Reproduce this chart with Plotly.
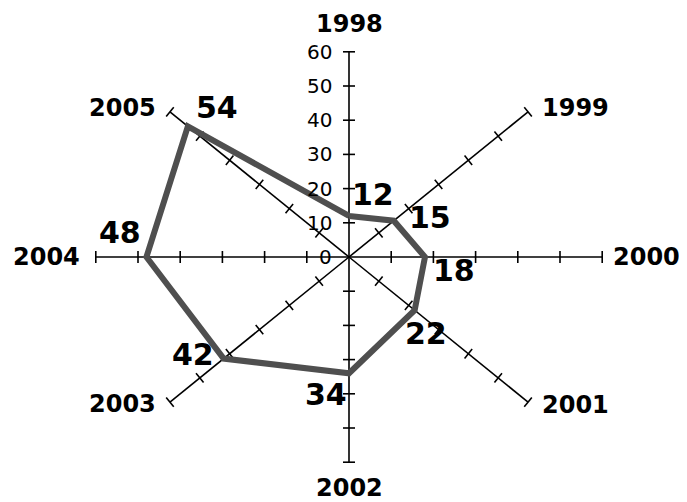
import numpy as np
import plotly.graph_objects as go

# ---------------- data ----------------
years = ["1998", "1999", "2000", "2001", "2002", "2003", "2004", "2005"]
values = [12, 15, 18, 22, 34, 42, 48, 54]
tick_values = [0, 10, 20, 30, 40, 50, 60]
tick_labels = ["0", "10", "20", "30", "40", "50", "60"]
r_max = 60

# ---------------- style ----------------
W, H = 687, 502
CX, CY = 341, 249          # centre of radar in figure pixels (page adds 8px body margin)
SX, SY = 4.22, 3.42        # pixels per unit (chart is stretched horizontally)
TICK_HALF = 6              # px
LINE_COLOR = "#4f4f4f"
# label offsets (px) relative to anchor points
year_offsets = [(0, 28, "center"), (12, 4, "left"), (9, 0, "left"), (12, -3, "left"),
                (0, -26, "center"), (-12, -2, "right"), (-14, 0, "right"), (-12, 4, "right")]
value_offsets = [(24, 21), (36, 3), (29, -13), (11, -23),
                 (-23, -21), (-31, 4), (-26, 25), (29, 19)]

angles = np.deg2rad(np.arange(len(years)) * 360.0 / len(years))


def to_xy(r, a):
    return r * np.sin(a), r * np.cos(a)


fig = go.Figure()

# axis spokes
ax_x, ax_y = [], []
for a in angles:
    xe, ye = to_xy(r_max, a)
    ax_x += [0, xe, None]
    ax_y += [0, ye, None]
fig.add_trace(go.Scatter(x=ax_x, y=ax_y, mode="lines",
                         line=dict(color="black", width=1.6), hoverinfo="skip"))

# cross tick marks
tk_x, tk_y = [], []
for a in angles:
    ux, uy = np.sin(a) * SX, -np.cos(a) * SY
    n = np.hypot(ux, uy)
    ux, uy = ux / n, uy / n
    px, py = -uy, ux
    for t in tick_values[1:]:
        xc, yc = to_xy(t, a)
        dx = TICK_HALF * px / SX
        dy = -TICK_HALF * py / SY
        tk_x += [xc - dx, xc + dx, None]
        tk_y += [yc - dy, yc + dy, None]
fig.add_trace(go.Scatter(x=tk_x, y=tk_y, mode="lines",
                         line=dict(color="black", width=1.6), hoverinfo="skip"))

# data polygon
px_, py_ = to_xy(np.array(values, dtype=float), angles)
fig.add_trace(go.Scatter(x=list(px_) + [px_[0]], y=list(py_) + [py_[0]], mode="lines",
                         line=dict(color=LINE_COLOR, width=6), hoverinfo="skip"))

ann = []
# radial tick labels
for t, lab in zip(tick_values, tick_labels):
    ann.append(dict(x=0, y=t, xref="x", yref="y", text=lab, showarrow=False,
                    xanchor="right", yanchor="middle", xshift=-15,
                    font=dict(family="DejaVu Sans", size=20, color="black")))
# year labels
for a, yr, (dx, dy, anc) in zip(angles, years, year_offsets):
    xe, ye = to_xy(r_max, a)
    ann.append(dict(x=xe, y=ye, xref="x", yref="y", text="<b>%s</b>" % yr, showarrow=False,
                    xanchor=anc, yanchor="middle", xshift=dx, yshift=dy,
                    font=dict(family="DejaVu Sans", size=24, color="black")))
# value labels
for xv, yv, v, (dx, dy) in zip(px_, py_, values, value_offsets):
    ann.append(dict(x=xv, y=yv, xref="x", yref="y", text="<b>%d</b>" % v, showarrow=False,
                    xanchor="center", yanchor="middle", xshift=dx, yshift=dy,
                    font=dict(family="DejaVu Sans", size=30, color="black")))

fig.update_layout(
    width=W, height=H,
    margin=dict(l=0, r=0, t=0, b=0),
    paper_bgcolor="white", plot_bgcolor="white",
    showlegend=False,
    annotations=ann,
    xaxis=dict(range=[-CX / SX, (W - CX) / SX], visible=False, fixedrange=True),
    yaxis=dict(range=[-(H - CY) / SY, CY / SY], visible=False, fixedrange=True),
)

fig.write_html("out.html")
